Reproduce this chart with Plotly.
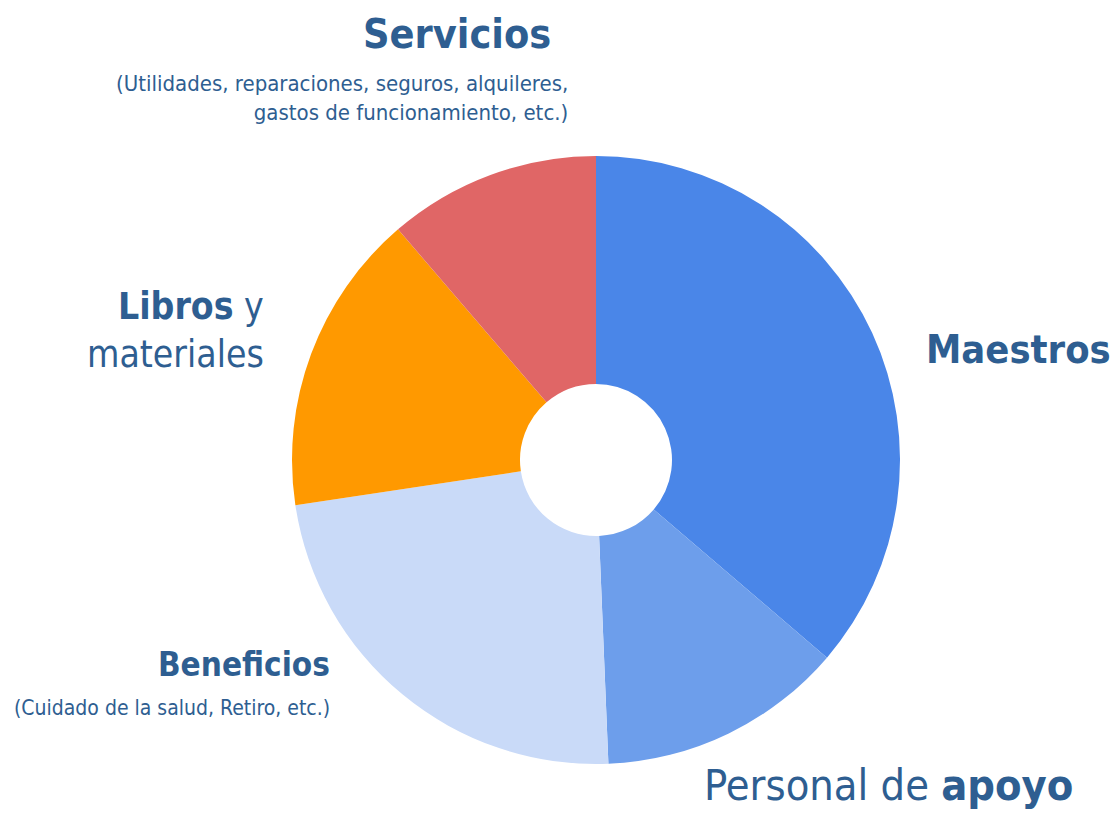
import plotly.graph_objects as go

categories = ["Maestros", "Personal de apoyo", "Beneficios", "Libros y materiales", "Servicios"]
values = [36.3, 13.1, 23.3, 16.1, 11.3]
colors = ["#4A86E8", "#6D9EEB", "#C9DAF8", "#FF9900", "#E06666"]

TXT = "#2E5E91"
FONT = "DejaVu Sans Condensed, Roboto, sans-serif"

# page body has an 8px default margin; compensate
OFF = 8
W, H = 1118 - OFF, 813 - OFF
cx, cy, r = 596 - OFF, 460 - OFF, 304

fig = go.Figure(go.Pie(
    labels=categories, values=values, sort=False, direction="clockwise",
    rotation=0, hole=0.25, marker=dict(colors=colors, line=dict(width=0)),
    textinfo="none", hoverinfo="label+percent", showlegend=False,
    domain=dict(x=[(cx - r) / W, (cx + r) / W], y=[(H - cy - r) / H, (H - cy + r) / H]),
))

def ann(text, x, y, size, xanchor="right", yanchor="middle", align="right"):
    fig.add_annotation(text=text, x=(x - OFF) / W, y=1 - (y - OFF) / H,
                       xref="paper", yref="paper",
                       xanchor=xanchor, yanchor=yanchor, align=align, showarrow=False,
                       font=dict(family=FONT, size=size, color=TXT))

ann("<b>Servicios</b>", 457, 34, 41, xanchor="center", align="center")
ann("(Utilidades, reparaciones, seguros, alquileres,<br>gastos de funcionamiento, etc.)", 570, 98, 22)
ann("<b>Libros</b> y<br>materiales", 266, 330, 37)
ann("<b>Maestros</b>", 1113, 349, 39.5)
ann("<b>Beneficios</b>", 332, 664, 33)
ann("(Cuidado de la salud, Retiro, etc.)", 332, 708, 21)
ann("Personal de <b>apoyo</b>", 1075, 785, 43)

fig.update_layout(width=W, height=H, margin=dict(l=0, r=0, t=0, b=0),
                  paper_bgcolor="white", plot_bgcolor="white")
fig.write_html("out.html")
